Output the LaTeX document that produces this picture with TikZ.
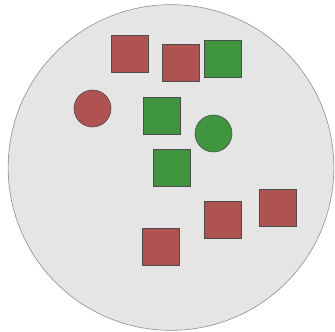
\documentclass[tikz,border=0pt]{standalone}
\definecolor{redbox}{HTML}{B05252}
\definecolor{greenbox}{HTML}{3F963F}
\definecolor{dishgray}{HTML}{E5E5E5}
\begin{document}
\begin{tikzpicture}[x=0.03cm,y=-0.03cm,
			every node/.style={draw=black!70,line width=0.5pt,minimum size=1.11cm,inner sep=0pt},
			redsq/.style={rectangle,fill=redbox},
			greensq/.style={rectangle,fill=greenbox},
			redci/.style={circle,fill=redbox},
			greenci/.style={circle,fill=greenbox}]
			\useasboundingbox (0,0) rectangle (335,331);
			\node[circle,fill=dishgray,draw=black!45,minimum size=9.77cm] (dish) at (171,167.5) {};
			\node[redsq] (r1) at (129.5,54) {};
			\node[redsq] (r2) at (180.5,63) {};
			\node[greensq] (g1) at (222.5,59) {};
			\node[redci] (c1) at (92.5,108.5) {};
			\node[greensq] (g2) at (162,115.5) {};
			\node[greenci] (c2) at (213.5,133.5) {};
			\node[greensq] (g3) at (171.5,167.5) {};
			\node[redsq] (r3) at (222.5,220) {};
			\node[redsq] (r4) at (277.5,207.5) {};
			\node[redsq] (r5) at (161,246.5) {};
		\end{tikzpicture}
\end{document}
